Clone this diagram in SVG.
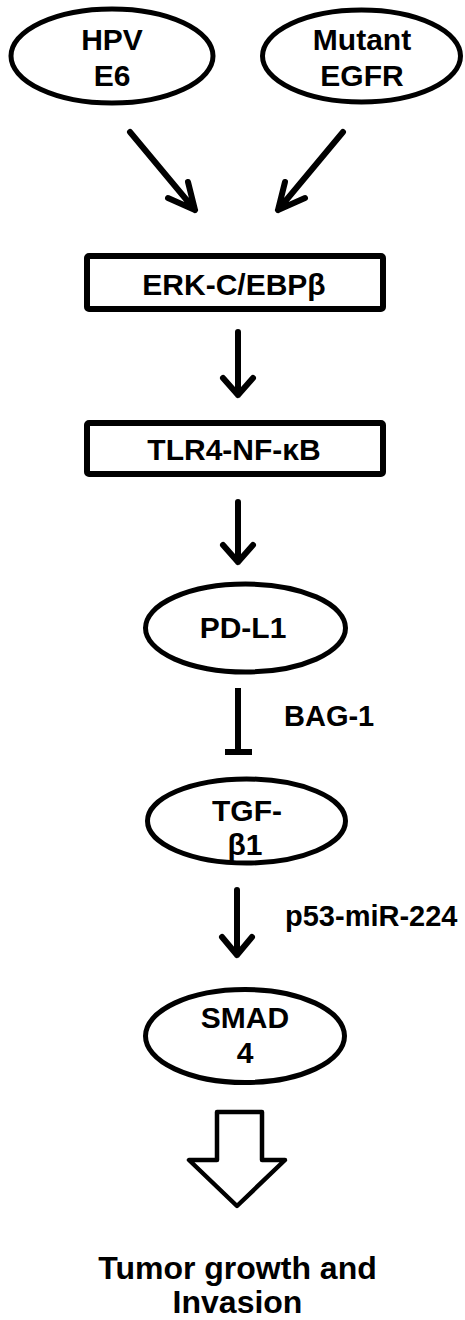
<svg xmlns="http://www.w3.org/2000/svg" width="465" height="1320" viewBox="0 0 465 1320">
<style>
.n{fill:#fff;stroke:#000;stroke-width:5}
.t{font-family:"Liberation Sans",Arial,sans-serif;font-weight:bold;font-size:30px;fill:#000;text-anchor:middle}
.l{font-family:"Liberation Sans",Arial,sans-serif;font-weight:bold;font-size:29px;fill:#000}
.c{fill:none;stroke:#000;stroke-width:6;stroke-linecap:round;stroke-linejoin:round}
</style>
<rect width="465" height="1320" fill="#fff"/>
<g id="connectors">
<path class="c" d="M130,132 L195,210 M168,198 L195,210 L188,182"/>
<path class="c" d="M343,132 L278,210 M305,198 L278,210 L285,182"/>
<path class="c" d="M238,332 L238,395 M223,378 L238,395 L253,378"/>
<path class="c" d="M238,502 L238,562 M223,545 L238,562 L253,545"/>
<path class="c" d="M238,688 L238,754" style="stroke-linecap:butt"/>
<path d="M225,752 L252,752" stroke="#000" stroke-width="6" fill="none"/>
<path class="c" d="M237,890 L237,955 M222,937 L237,955 L252,937"/>
<path fill="#fff" stroke="#000" stroke-width="4.5" stroke-linejoin="round" d="M217,1112 L262,1112 L262,1160 L285,1160 L237,1206 L189,1160 L217,1160 Z"/>
</g>
<g id="hpv">
<ellipse class="n" cx="112" cy="56" rx="101" ry="47"/>
<text class="t" x="112" y="50">HPV</text>
<text class="t" x="112" y="86">E6</text>
</g>
<g id="egfr">
<ellipse class="n" cx="361.5" cy="56" rx="99" ry="46"/>
<text class="t" x="362" y="50">Mutant</text>
<text class="t" x="362" y="86">EGFR</text>
</g>
<g id="erk">
<rect class="n" x="87" y="256" width="296" height="53" rx="2" style="stroke-width:6"/>
<text class="t" x="234" y="295">ERK-C/EBPβ</text>
</g>
<g id="tlr4">
<rect class="n" x="87" y="423" width="296" height="51" rx="2" style="stroke-width:6"/>
<text class="t" x="234" y="460">TLR4-NF-κB</text>
</g>
<g id="pdl1">
<ellipse class="n" cx="245.5" cy="628" rx="100" ry="44"/>
<text class="t" x="243" y="638">PD-L1</text>
</g>
<g id="bag1">
<text class="l" x="284" y="726">BAG-1</text>
</g>
<g id="tgfb1">
<ellipse class="n" cx="246.5" cy="821" rx="99" ry="42"/>
<text class="t" x="247" y="821">TGF-</text>
<text class="t" x="245" y="855">β1</text>
</g>
<g id="p53">
<text class="l" x="285" y="926">p53-miR-224</text>
</g>
<g id="smad4">
<ellipse class="n" cx="245" cy="1036" rx="99.5" ry="46.5"/>
<text class="t" x="245" y="1028">SMAD</text>
<text class="t" x="245" y="1063">4</text>
</g>
<g id="outcome">
<text class="t" x="237.5" y="1279" style="font-size:32px">Tumor growth and</text>
<text class="t" x="237.5" y="1313" style="font-size:32px">Invasion</text>
</g>
</svg>
